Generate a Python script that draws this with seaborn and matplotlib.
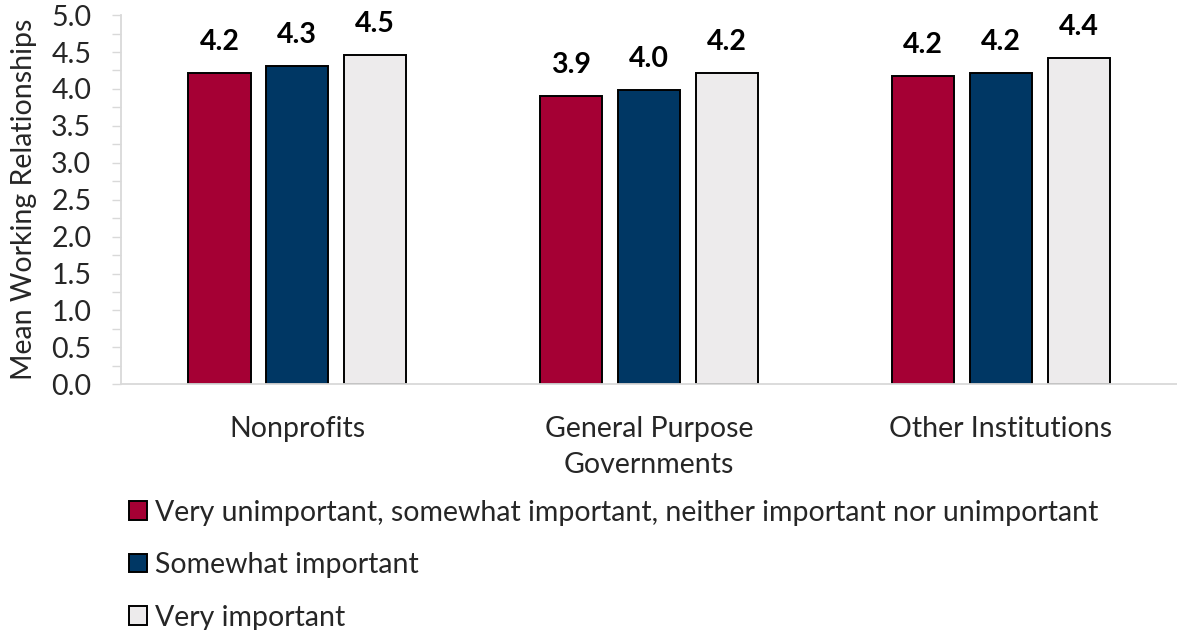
import matplotlib
matplotlib.use("Agg")
import matplotlib.pyplot as plt
from matplotlib.ticker import MultipleLocator, FormatStrFormatter
from matplotlib.patches import Patch
import seaborn as sns
import pandas as pd

categories = ["Nonprofits", "General Purpose\nGovernments", "Other Institutions"]
importance = [
    "Very unimportant, somewhat important, neither important nor unimportant",
    "Somewhat important",
    "Very important",
]
low_importance = [4.22, 3.90, 4.17]
somewhat_important = [4.31, 3.99, 4.22]
very_important = [4.46, 4.21, 4.42]

colors = ["#A50034", "#003764", "#EDEBEC"]

rows = []
for series, vals in zip(importance, [low_importance, somewhat_important, very_important]):
    for cat, v in zip(categories, vals):
        rows.append({"category": cat, "group": series, "value": v})
df = pd.DataFrame(rows)

sns.set_theme(style="white")
plt.rcParams["font.family"] = ["Lato", "DejaVu Sans"]

FS = 20.5

fig = plt.figure(figsize=(11.77, 6.3), dpi=100)
ax = fig.add_axes([0.103, 0.390, 0.897, 0.586])

sns.barplot(data=df, x="category", y="value", hue="group", order=categories,
            hue_order=importance, palette=colors, saturation=1, width=0.663,
            gap=0.2, edgecolor="black", linewidth=1.4, legend=False, ax=ax)

for container in ax.containers:
    ax.bar_label(container, fmt="%.1f", padding=13, fontsize=FS,
                 fontweight="bold", color="black")

ax.set_xlim(-0.5, 2.5)
ax.set_ylim(0, 5)
ax.yaxis.set_major_locator(MultipleLocator(0.5))
ax.yaxis.set_minor_locator(MultipleLocator(0.25))
ax.yaxis.set_major_formatter(FormatStrFormatter("%.1f"))
ax.tick_params(axis="y", which="both", left=True, length=6.5, width=1,
               color="#D9D9D9", labelsize=FS, pad=15)
ax.tick_params(axis="x", bottom=False, labelsize=FS, pad=17)
for lbl in ax.get_xticklabels():
    lbl.set_linespacing(1.45)
ax.set_xlabel("")
ax.set_ylabel("Mean Working Relationships", fontsize=FS, labelpad=10)

for side in ["top", "right"]:
    ax.spines[side].set_visible(False)
for side in ["left", "bottom"]:
    ax.spines[side].set_color("#D9D9D9")
    ax.spines[side].set_linewidth(1.3)

handles = [Patch(facecolor=c, edgecolor="black", linewidth=1.4) for c in colors]
fig.legend(handles, importance, loc="upper left", bbox_to_anchor=(0.1, 0.225),
           frameon=False, fontsize=FS, handlelength=0.62, handleheight=0.62,
           handletextpad=0.3, labelspacing=0.93, borderaxespad=0)

fig.savefig("out.png", dpi=100)
